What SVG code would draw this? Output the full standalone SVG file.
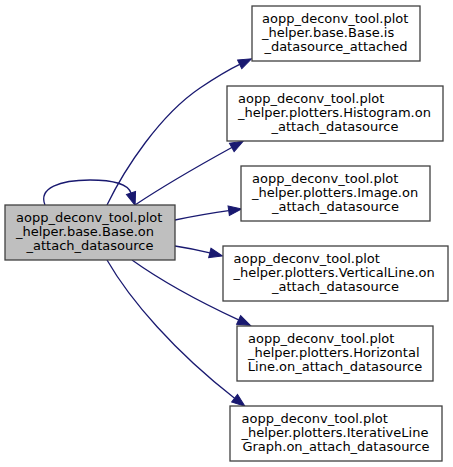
<svg xmlns="http://www.w3.org/2000/svg" width="453" height="467" viewBox="0 0 453 467">
<style>
.box{fill:#ffffff;stroke:#404040;stroke-width:1.3}
.main{fill:#bfbfbf;stroke:#404040;stroke-width:1.3}
text{font-family:"DejaVu Sans",sans-serif;font-size:13px;fill:#000000}
.c{text-anchor:middle}
.e{fill:none;stroke:#191970;stroke-width:1.3}
</style>
<defs>
<marker id="ah" markerUnits="userSpaceOnUse" markerWidth="16" markerHeight="12" refX="0" refY="5" orient="auto" overflow="visible">
<path d="M0,0.2 L13,5 L0,9.8 Z" fill="#191970" stroke="#191970" stroke-width="1"/>
</marker>
</defs>
<rect width="453" height="467" fill="#ffffff"/>
<g id="connectors">
<path class="e" marker-end="url(#ah)" d="M45,205 C38,188 60,180 90,180 C112,180 128,184 131,193"/>
<path class="e" marker-end="url(#ah)" d="M107,205 C125,168 160,115 200,88 C215,78 228,70 239.7,64.4"/>
<path class="e" marker-end="url(#ah)" d="M135,205 C165,185 200,165 231.8,147.5"/>
<path class="e" marker-end="url(#ah)" d="M175,220 C195,216 212,213 228.7,210.7"/>
<path class="e" marker-end="url(#ah)" d="M175,246 C188,248 200,250.5 209.8,252.9"/>
<path class="e" marker-end="url(#ah)" d="M132,260 C160,280 200,302 238.6,319.9"/>
<path class="e" marker-end="url(#ah)" d="M107,260 C130,300 175,352 234.6,398.2"/>
</g>
<g id="node-main">
<rect class="main" x="5" y="205" width="170" height="55"/>
<text x="16" y="222">aopp_deconv_tool.plot</text>
<text x="16" y="236">_helper.base.Base.on</text>
<text class="c" x="90" y="250">_attach_datasource</text>
</g>
<g id="node-is-datasource-attached">
<rect class="box" x="252" y="6" width="168" height="55"/>
<text x="262" y="23">aopp_deconv_tool.plot</text>
<text x="262" y="37">_helper.base.Base.is</text>
<text class="c" x="336" y="51">_datasource_attached</text>
</g>
<g id="node-histogram">
<rect class="box" x="227" y="86" width="216" height="55"/>
<text x="238" y="103">aopp_deconv_tool.plot</text>
<text x="238" y="117">_helper.plotters.Histogram.on</text>
<text class="c" x="335" y="131">_attach_datasource</text>
</g>
<g id="node-image">
<rect class="box" x="241" y="166" width="189" height="55"/>
<text x="252" y="183">aopp_deconv_tool.plot</text>
<text x="252" y="197">_helper.plotters.Image.on</text>
<text class="c" x="335.5" y="211">_attach_datasource</text>
</g>
<g id="node-verticalline">
<rect class="box" x="223" y="246" width="225" height="55"/>
<text x="233.5" y="263">aopp_deconv_tool.plot</text>
<text x="233.5" y="277">_helper.plotters.VerticalLine.on</text>
<text class="c" x="335.5" y="291">_attach_datasource</text>
</g>
<g id="node-horizontalline">
<rect class="box" x="237" y="326" width="196" height="55"/>
<text x="248" y="343">aopp_deconv_tool.plot</text>
<text x="248" y="357">_helper.plotters.Horizontal</text>
<text class="c" x="335" y="371">Line.on_attach_datasource</text>
</g>
<g id="node-iterativelinegraph">
<rect class="box" x="230" y="406" width="212" height="55"/>
<text x="241.5" y="423">aopp_deconv_tool.plot</text>
<text x="241.5" y="437">_helper.plotters.IterativeLine</text>
<text class="c" x="336" y="451">Graph.on_attach_datasource</text>
</g>
</svg>
